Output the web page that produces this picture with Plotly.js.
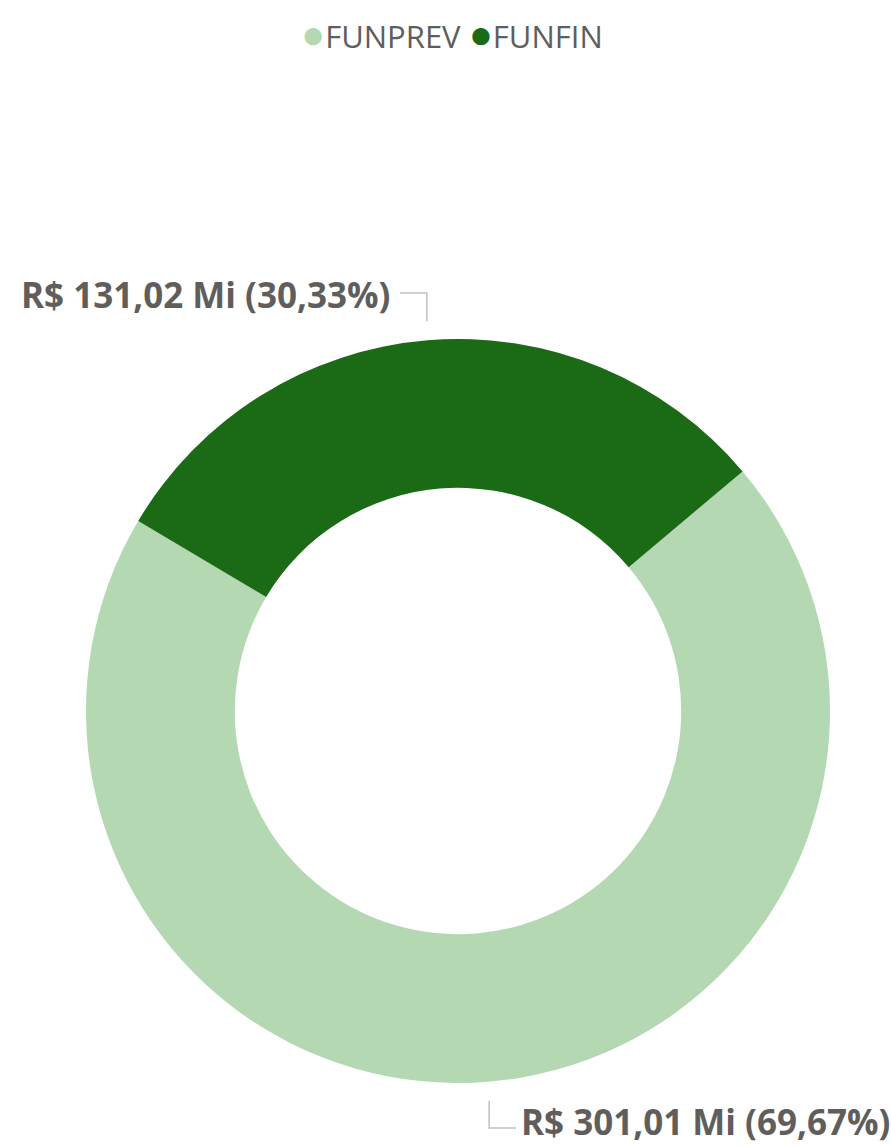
<!DOCTYPE html>
<html>
<head>
<meta charset="utf-8">
<script src="https://cdn.plot.ly/plotly-3.0.1.min.js"></script>
<style>html,body{margin:0;padding:0;background:#fff;}#chart{width:891px;height:1146px;}</style>
</head>
<body>
<div id="chart"></div>
<script>
// ---- data ----
const categories = ["FUNPREV", "FUNFIN"];
const values = [301.01, 131.02];          // R$ milhões
const colors = ["#B3D8B2", "#1B6A16"];

// ---- helpers ----
const W = 891, H = 1146;
const total = values.reduce((a, b) => a + b, 0);
const pcts = values.map(v => v / total * 100);
const fmt = n => n.toFixed(2).replace(".", ",");
const labelTexts = values.map((v, i) => "R$ " + fmt(v) + " Mi (" + fmt(pcts[i]) + "%)");

// geometry of the donut (pixels)
const cx = 458, cy = 711, R = 372;
const rotation = 49.9;
const px = x => x / W, py = y => 1 - y / H;

// slice mid angles (clockwise from 12 o'clock)
let start = rotation;
const mids = values.map(v => { const a = v / total * 360; const m = start + a / 2; start += a; return m; });
const ptAt = (deg, r) => [cx + r * Math.sin(deg * Math.PI / 180), cy - r * Math.cos(deg * Math.PI / 180)];

const lineStyle = {color: "#C0C0C0", width: 1.5};
const shapes = [];
const annotations = [];
const labelFont = {family: "Segoe UI, Open Sans, sans-serif", size: 35, color: "#605E5C", weight: "bold"};

// FUNFIN label (top-left)
{
  const [x0, y0] = ptAt(mids[1], 381);
  const yTop = 293, xLeft = 400;
  shapes.push({type: "path", xref: "paper", yref: "paper",
    path: `M ${px(xLeft)} ${py(yTop)} L ${px(x0)} ${py(yTop)} L ${px(x0)} ${py(y0 - 10)}`, line: lineStyle});
  annotations.push({xref: "paper", yref: "paper", x: px(xLeft - 8), y: py(yTop + 1), xanchor: "right", yanchor: "middle",
    text: "<b>" + labelTexts[1] + "</b>", showarrow: false, font: labelFont});
}
// FUNPREV label (bottom-right)
{
  const [x0, y0] = ptAt(mids[0], 381);
  const yBot = 1128, xRight = 516;
  shapes.push({type: "path", xref: "paper", yref: "paper",
    path: `M ${px(x0)} ${py(y0 + 10)} L ${px(x0)} ${py(yBot)} L ${px(xRight)} ${py(yBot)}`, line: lineStyle});
  annotations.push({xref: "paper", yref: "paper", x: px(xRight + 4), y: 0, xanchor: "left", yanchor: "bottom",
    borderpad: 0, text: "<b>" + labelTexts[0] + "</b>", showarrow: false, font: labelFont});
}

// custom legend with round markers
const legendText = categories.map((c, i) =>
  `<span style="color:${colors[i]};font-size:40px">●</span>${c}`).join(" ");
annotations.push({xref: "paper", yref: "paper", x: px(452), y: py(33), xanchor: "center", yanchor: "middle",
  text: legendText, showarrow: false,
  font: {family: "Segoe UI, Open Sans, sans-serif", size: 31, color: "#605E5C"}});

const trace = {
  type: "pie",
  labels: categories,
  values: values,
  hole: 0.6,
  sort: false,
  direction: "clockwise",
  rotation: rotation,
  marker: {colors: colors, line: {width: 0}},
  textinfo: "none",
  hoverinfo: "label+value+percent",
  domain: {x: [px(cx - R), px(cx + R)], y: [py(cy + R), py(cy - R)]}
};

const layout = {
  width: W, height: H,
  margin: {l: 0, r: 0, t: 0, b: 0},
  showlegend: false,
  paper_bgcolor: "#ffffff",
  shapes: shapes,
  annotations: annotations
};

Plotly.newPlot("chart", [trace], layout, {displayModeBar: false, staticPlot: true});
</script>
</body>
</html>
